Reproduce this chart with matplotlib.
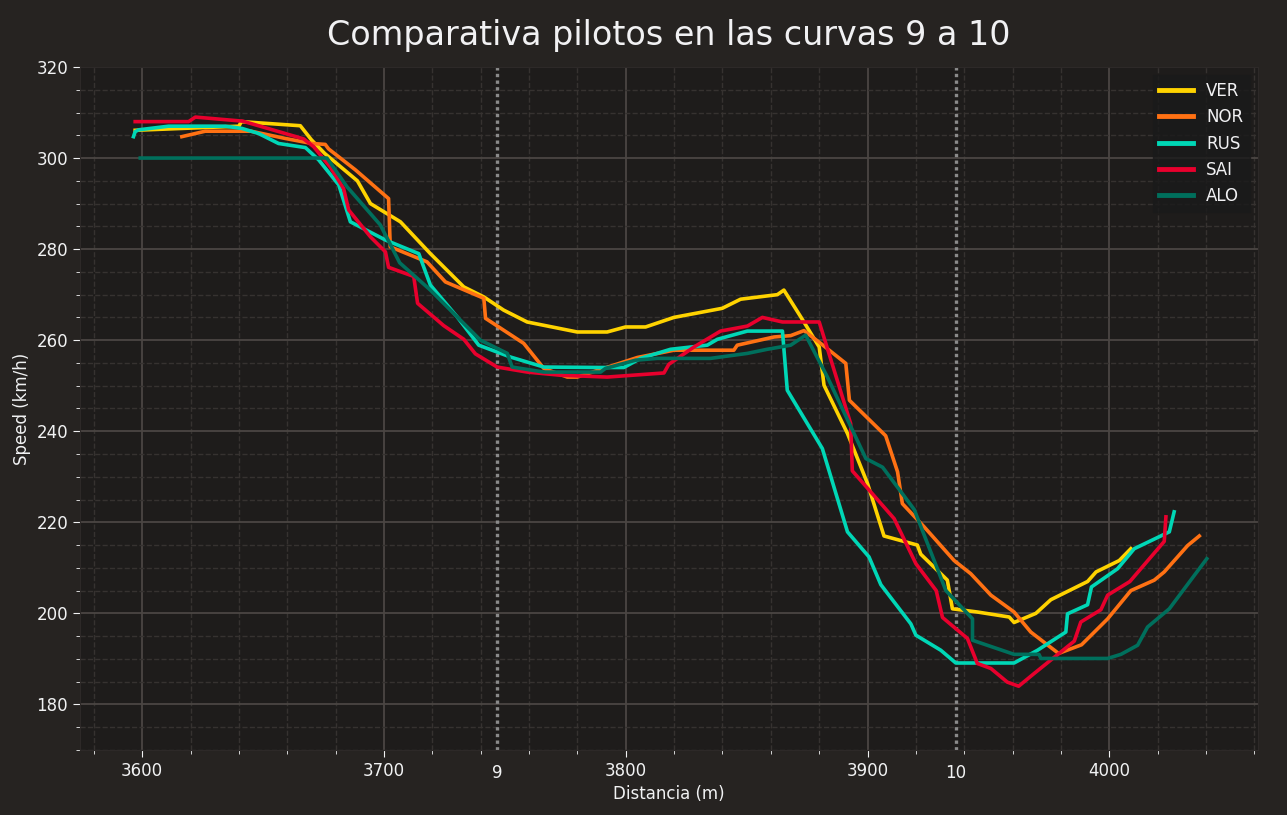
import matplotlib
matplotlib.use("Agg")
from matplotlib import pyplot as plt
from matplotlib.ticker import AutoMinorLocator
import matplotlib.transforms as mtransforms

# telemetry: distance (m) / speed (km/h)
ver_dist = [3597.1, 3640, 3641, 3665.4, 3670, 3675.5, 3689, 3694.4, 3706.8, 3719.2, 3733, 3741.3,
            3749.5, 3759.2, 3779.9, 3792.3, 3799.9, 3808.2, 3819.9, 3839.9, 3847.5, 3862.7, 3865.4,
            3872.4, 3880, 3882, 3891.7, 3900, 3906.8, 3920.6, 3922, 3933, 3935.1, 3945.4, 3958.6,
            3960.6, 3969.6, 3975.8, 3991, 3994.5, 4004.1, 4008.9]
ver_speed = [306.1, 307, 308, 307.1, 304, 301, 295, 290, 286, 279, 271.7, 269.5,
             266.6, 264, 261.8, 261.8, 262.9, 262.9, 265, 267, 269, 270, 271,
             265.1, 258.5, 250.1, 239.5, 228.5, 217, 215, 213, 207.3, 201, 200.3, 199.2,
             198, 200, 203, 207, 209.1, 211.6, 214.2]

nor_dist = [3616.4, 3626.1, 3645, 3659.2, 3670.2, 3675.7, 3677.1, 3688.2, 3701.9, 3702.6, 3717.8,
            3725.4, 3741.3, 3742, 3757.8, 3766.1, 3775.8, 3779.9, 3804.8, 3819.9, 3844.7, 3846.1,
            3861.3, 3868.2, 3873.7, 3880.6, 3891, 3892.5, 3907.5, 3912.4, 3914.4, 3923.4, 3935.8,
            3942.7, 3951, 3960.6, 3967.5, 3979, 3988.5, 3999.3, 4008.9, 4018.6, 4022.7, 4032.4, 4037.2]
nor_speed = [304.7, 305.9, 305.9, 304.3, 303.2, 303, 302, 297.4, 291.1, 280.5, 277.2,
             272.8, 269.2, 264.8, 259.3, 253.8, 251.9, 251.9, 256.2, 257.8, 257.8, 258.9,
             260.7, 261, 262.1, 259.3, 254.9, 246.8, 239, 231.1, 224.1, 219, 211.6,
             208.7, 204, 200.3, 195.9, 191.2, 193.1, 198.8, 205, 207.3, 209.1, 214.9, 217]

rus_dist = [3596.4, 3597.1, 3598.5, 3610.9, 3634.4, 3641.3, 3648.1, 3656.4, 3667.5, 3673, 3681.3,
            3686.1, 3700.6, 3714.4, 3719.2, 3730.3, 3739.2, 3752.3, 3766.1, 3788.9, 3799.2, 3806.1,
            3818.5, 3833.7, 3837.9, 3850.3, 3864.8, 3866.8, 3881.3, 3891.7, 3900.6, 3905.5, 3917.9,
            3920, 3930.3, 3936.5, 3960.6, 3970.3, 3982, 3982.7, 3991, 3992.6, 4003.4, 4010.3,
            4024.8, 4026.8]
rus_speed = [304.7, 305.8, 306.2, 307, 307, 306.5, 305.4, 303.2, 302.3, 299.6, 294.1,
             286, 282, 279, 272.1, 265.1, 258.9, 256.3, 254.1, 254, 254, 256,
             258, 258.9, 260.2, 262, 262, 249, 236.2, 217.9, 212.4, 206.3, 197.7,
             195.2, 191.9, 189.1, 189.1, 191.9, 195.9, 199.9, 201.9, 205.8, 209.8, 214.2,
             217.9, 222.3]

sai_dist = [3597.1, 3619.2, 3622, 3641.6, 3652, 3666.8, 3670.9, 3677.8, 3683.3, 3685.4, 3694.4,
            3700.6, 3701.9, 3712.3, 3713.9, 3724.7, 3733, 3737.8, 3746.8, 3759.2, 3773, 3792.3,
            3815.8, 3817.8, 3828.2, 3839.2, 3850.3, 3856.5, 3864.8, 3880, 3893, 3893.7, 3911,
            3920, 3928.4, 3931, 3941.3, 3945.4, 3951, 3957.8, 3962.5, 3968.9, 3985.5, 3988.2,
            3996.5, 3999.3, 4008.5, 4022.7, 4023.4]
sai_speed = [308, 308, 309, 308.1, 306.5, 304.2, 302.5, 298, 293.3, 288.6, 282.7,
             279.4, 276, 274, 268.1, 263.2, 260.2, 257, 254.1, 253, 252.3, 251.9,
             252.8, 254.7, 258.5, 262, 263.1, 265, 264, 264, 241.7, 231.3, 220.8,
             210.9, 205, 199.1, 194.5, 189, 187.9, 184.9, 184, 186.8, 193.9, 198.1,
             200.8, 204, 207, 215.8, 221.2]

alo_dist = [3599.2, 3676.4, 3684.7, 3698.5, 3706.5, 3719.2, 3739.9, 3751, 3753, 3766.1, 3789.6,
            3791.6, 3804, 3813, 3835, 3850.3, 3858.5, 3868.2, 3874.4, 3883.4, 3899.3, 3906.2,
            3919.3, 3932.4, 3943.4, 3943.4, 3960.6, 3970.9, 3971.7, 3999.3, 4004.8, 4011.7,
            4015.8, 4024.8, 4040.3]
alo_speed = [300, 300, 293.7, 285.3, 277, 271, 260, 257.1, 254.1, 253, 253,
             253.8, 255.6, 256, 256, 257.1, 258, 258.9, 261.1, 251.9, 234, 232.1,
             222.8, 205, 198.8, 194.1, 191, 191, 190.1, 190.1, 191, 193,
             197, 201, 212]

drivers = ["VER", "NOR", "RUS", "SAI", "ALO"]
colors = ["#ffd300", "#ff7113", "#00d7b6", "#e8002d", "#006f5c"]
corner_numbers = ["9", "10"]
corner_dist = [3746.9, 3936.5]

plt.rcParams['figure.facecolor'] = '#262321'
plt.rcParams['axes.facecolor'] = '#1e1c1b'
plt.rcParams['axes.edgecolor'] = '#2d2928'
plt.rcParams['xtick.color'] = '#f1f2f3'
plt.rcParams['ytick.color'] = '#f1f2f3'
plt.rcParams['axes.labelcolor'] = '#f1f2f3'
plt.rcParams['text.color'] = '#f1f1f3'

fig = plt.figure(figsize=(12.87, 8.15), dpi=100)
ax = fig.add_axes([0.0622, 0.0798, 0.9153, 0.838])

series = [(ver_dist, ver_speed), (nor_dist, nor_speed), (rus_dist, rus_speed),
          (sai_dist, sai_speed), (alo_dist, alo_speed)]
for (d, s), name, c in zip(series, drivers, colors):
    ax.plot(d, s, color=c, lw=2.6, label=name)

ax.set_ylim(170, 320)
ax.set_xlim(3574.3, 4061.5)

for x in corner_dist:
    ax.axvline(x, color='#8a8a8a', lw=2.4, linestyle=(0, (1, 1)), zorder=1.5)

trans = mtransforms.blended_transform_factory(ax.transData, ax.transAxes)
for x, n in zip(corner_dist, corner_numbers):
    ax.text(x, -0.034, n, transform=trans, ha='center', va='center', fontsize=12, color='#f1f2f3')

ax.xaxis.set_minor_locator(AutoMinorLocator())
ax.yaxis.set_minor_locator(AutoMinorLocator())
ax.set_axisbelow(True)
ax.grid(which='major', color='#4b4643', lw=1.3, linestyle='-')
ax.grid(which='minor', color='#363230', lw=1.0, linestyle='--')
ax.tick_params(which='both', labelsize=12)
ax.tick_params(which='major', length=5)
ax.tick_params(which='minor', length=3)

ax.set_xlabel('Distancia (m)', fontsize=12)
ax.set_ylabel('Speed (km/h)', fontsize=12)
ax.set_title('Comparativa pilotos en las curvas 9 a 10', fontsize=24, pad=16)

leg = ax.legend(loc='upper right', fontsize=12, frameon=True, fancybox=False,
                facecolor=(0.1, 0.1, 0.1, 0.7), edgecolor=(0.1, 0.1, 0.1, 0.9))
for line in leg.get_lines():
    line.set_linewidth(3.5)

fig.savefig('out.png', dpi=100)
